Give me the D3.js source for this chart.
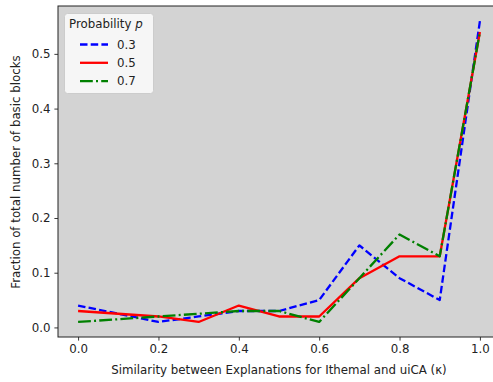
<!DOCTYPE html>
<html><head><meta charset="utf-8">
<script src="https://cdn.jsdelivr.net/npm/d3@7"></script>
<style>body{margin:0;background:#fff}svg{display:block}text{font-family:"DejaVu Sans",sans-serif}</style>
</head><body><svg id="c" width="493" height="382"></svg>
<script>
const xValues = [0.0, 0.1, 0.2, 0.3, 0.4, 0.5, 0.6, 0.7, 0.8, 0.9, 1.0];
const p03 = [0.04, 0.025, 0.01, 0.02, 0.03, 0.03, 0.05, 0.15, 0.09, 0.05, 0.56];
const p05 = [0.03, 0.025, 0.02, 0.01, 0.04, 0.02, 0.02, 0.09, 0.13, 0.13, 0.54];
const p07 = [0.01, 0.015, 0.02, 0.025, 0.03, 0.03, 0.01, 0.09, 0.17, 0.13, 0.54];
const seriesNames = ["0.3", "0.5", "0.7"];
const xTicks = [0.0, 0.2, 0.4, 0.6, 0.8, 1.0];
const yTicks = [0.0, 0.1, 0.2, 0.3, 0.4, 0.5];

const series = [
  {name: seriesNames[0], values: p03, color: "#0000ff", dash: "7.5,3.2"},
  {name: seriesNames[1], values: p05, color: "#ff0000", dash: null},
  {name: seriesNames[2], values: p07, color: "#008000", dash: "12.8,3.2,2,3.2"}
];

const svg = d3.select("#c");
const L = 58, R = 500, T = 6, B = 337;
const x = d3.scaleLinear().domain([-0.05, 1.05]).range([L, R]);
const y = d3.scaleLinear().domain([-0.0175, 0.5875]).range([B, T]);
const fs = 11.8;

svg.append("rect").attr("x", L).attr("y", T).attr("width", R - L).attr("height", B - T).attr("fill", "#d3d3d3");

const line = d3.line().x((d, i) => x(xValues[i])).y(d => y(d));
const g = svg.append("g");
series.forEach(s => {
  g.append("path").datum(s.values).attr("d", line)
    .attr("fill", "none").attr("stroke", s.color).attr("stroke-width", 2.3)
    .attr("stroke-dasharray", s.dash).attr("stroke-linejoin", "round");
});

svg.append("rect").attr("x", L).attr("y", T).attr("width", R - L).attr("height", B - T)
  .attr("fill", "none").attr("stroke", "#222").attr("stroke-width", 1);

const xa = svg.append("g").attr("transform", `translate(0,${B})`)
  .call(d3.axisBottom(x).tickValues(xTicks).tickFormat(d3.format(".1f")).tickSize(3.6).tickPadding(4));
const ya = svg.append("g").attr("transform", `translate(${L},0)`)
  .call(d3.axisLeft(y).tickValues(yTicks).tickFormat(d3.format(".1f")).tickSize(3.6).tickPadding(4));
[xa, ya].forEach(a => {
  a.select(".domain").remove();
  a.selectAll("line").attr("stroke", "#222").attr("stroke-width", 0.9);
  a.selectAll("text").attr("font-size", fs).attr("fill", "#222").attr("font-family", "DejaVu Sans");
});

svg.append("text").attr("x", 279).attr("y", 374).attr("text-anchor", "middle")
  .attr("font-size", fs).attr("fill", "#222")
  .text("Similarity between Explanations for Ithemal and uiCA (\u03BA)");
svg.append("text").attr("transform", `translate(20,172) rotate(-90)`).attr("text-anchor", "middle")
  .attr("font-size", fs).attr("fill", "#222")
  .text("Fraction of total number of basic blocks");

const lg = svg.append("g");
lg.append("rect").attr("x", 64.5).attr("y", 13.5).attr("width", 89).attr("height", 80).attr("rx", 3)
  .attr("fill", "#ffffff").attr("fill-opacity", 0.8).attr("stroke", "#cccccc").attr("stroke-width", 1);
const tt = lg.append("text").attr("x", 69).attr("y", 28).attr("font-size", fs).attr("fill", "#222");
tt.append("tspan").text("Probability ");
tt.append("tspan").attr("font-style", "italic").text("p");
series.forEach((s, i) => {
  const yy = 44.5 + i * 18.3;
  lg.append("line").attr("x1", 80).attr("x2", 108).attr("y1", yy).attr("y2", yy)
    .attr("stroke", s.color).attr("stroke-width", 2.3).attr("stroke-dasharray", s.dash);
  lg.append("text").attr("x", 117).attr("y", yy + 4.3).attr("font-size", fs).attr("fill", "#222").text(s.name);
});
</script></body></html>
